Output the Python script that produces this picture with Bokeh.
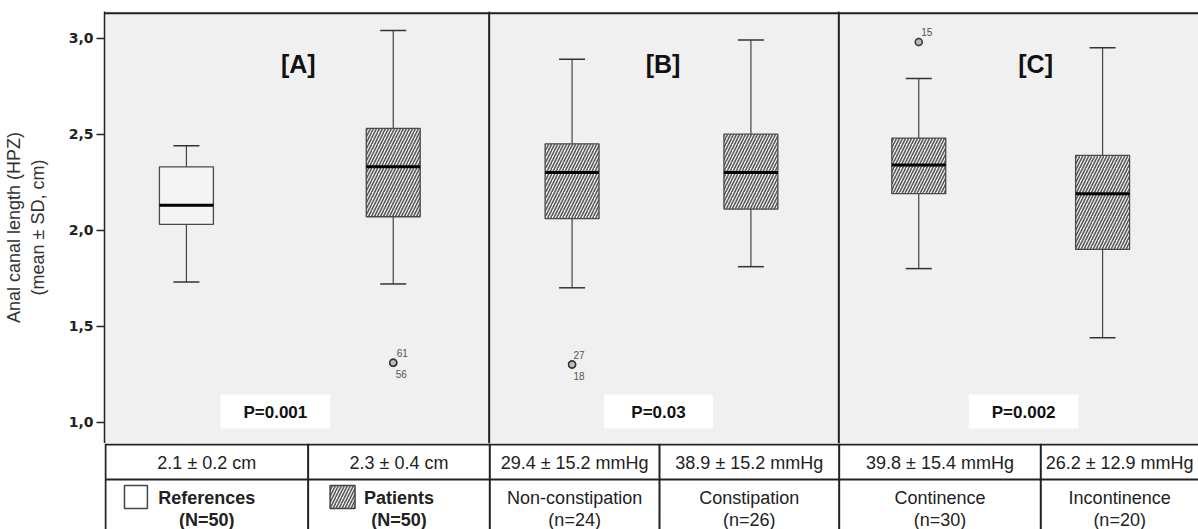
from bokeh.plotting import figure
from bokeh.layouts import column
from bokeh.models import FixedTicker, ColumnDataSource, Range1d
from bokeh.core.properties import value
from bokeh.embed import file_html
from bokeh.resources import INLINE

# ---------------- data ----------------
groups = ["References", "Patients", "Non-constipation", "Constipation", "Continence", "Incontinence"]
whisker_low = [1.73, 1.72, 1.70, 1.81, 1.80, 1.44]
q1 = [2.03, 2.07, 2.06, 2.11, 2.19, 1.90]
median = [2.13, 2.33, 2.30, 2.30, 2.34, 2.19]
q3 = [2.33, 2.53, 2.45, 2.50, 2.48, 2.39]
whisker_high = [2.44, 3.04, 2.89, 2.99, 2.79, 2.95]

outlier_group = ["Patients", "Patients", "Non-constipation", "Non-constipation", "Continence"]
outlier_value = [1.31, 1.31, 1.30, 1.30, 2.98]
outlier_case = ["61", "56", "27", "18", "15"]

stats = ["2.1 ± 0.2 cm", "2.3 ± 0.4 cm", "29.4 ± 15.2 mmHg", "38.9 ± 15.2 mmHg",
         "39.8 ± 15.4 mmHg", "26.2 ± 12.9 mmHg"]
group_n = ["(N=50)", "(N=50)", "(n=24)", "(n=26)", "(n=30)", "(n=20)"]
panel_labels = ["[A]", "[B]", "[C]"]
p_values = ["P=0.001", "P=0.03", "P=0.002"]
y_ticks = [1.0, 1.5, 2.0, 2.5, 3.0]
y_tick_labels = ["1,0", "1,5", "2,0", "2,5", "3,0"]
y_title = "Anal canal length (HPZ)\n(mean ± SD, cm)"

# ---------------- layout constants (pixel-like x units) ----------------
group_x = [82, 289, 468, 647, 815, 999]
BOX_W = 54
CAP_W = 26
panel_div = [385, 735]
col_div = [203, 555, 937]
col_center = [101.5, 294, 470, 645, 836, 1016]
panel_label_x = [194, 559, 932]
pbox_left = [116, 500, 865]
pbox_right = [226, 609, 975]

FONT = "Liberation Sans"
LINE = "#222222"


def v(py):
    return 1 + (421.7 - py) / 192.0


p = figure(width=1198, height=443, x_range=Range1d(0, 1095), y_range=Range1d(v(443), v(11)),
           output_backend="svg", toolbar_location=None, min_border_left=103, min_border_right=0,
           min_border_top=11, min_border_bottom=0, background_fill_color="#f0f0f0",
           border_fill_color="white", outline_line_color=None, x_axis_location=None)
p.grid.visible = False

ax = p.yaxis[0]
ax.ticker = FixedTicker(ticks=y_ticks)
ax.major_label_overrides = {t: l for t, l in zip(y_ticks, y_tick_labels)}
ax.minor_tick_line_color = None
ax.major_tick_out = 8
ax.major_tick_in = 0
ax.major_tick_line_color = LINE
ax.major_tick_line_width = 1.5
ax.axis_line_color = LINE
ax.axis_line_width = 1.5
ax.major_label_text_font = "DejaVu Sans"
ax.major_label_text_font_style = "bold"
ax.major_label_text_font_size = "14px"
ax.major_label_text_color = "#222222"
ax.major_label_standoff = 3
ax.axis_label = y_title
ax.axis_label_text_font = FONT
ax.axis_label_text_font_style = "normal"
ax.axis_label_text_font_size = "18px"
ax.axis_label_text_color = "#333333"
ax.axis_label_standoff = 18

# top border and panel dividers
p.segment(x0=[0], x1=[1095], y0=[v(12.7)], y1=[v(12.7)], line_color=LINE, line_width=2)
p.segment(x0=panel_div, x1=panel_div, y0=[v(443)] * 2, y1=[v(11)] * 2, line_color=LINE, line_width=2)

# boxes
src = ColumnDataSource(dict(
    x=group_x, lo=whisker_low, q1=q1, med=median, q3=q3, hi=whisker_high,
    hatch=[" " if g == "References" else "/" for g in groups],
    xl=[x - BOX_W / 2 for x in group_x], xr=[x + BOX_W / 2 for x in group_x],
    cl=[x - CAP_W / 2 for x in group_x], cr=[x + CAP_W / 2 for x in group_x],
))
p.segment(x0="x", x1="x", y0="lo", y1="q1", source=src, line_color="#444444", line_width=1.2)
p.segment(x0="x", x1="x", y0="q3", y1="hi", source=src, line_color="#444444", line_width=1.2)
p.segment(x0="cl", x1="cr", y0="lo", y1="lo", source=src, line_color="#333333", line_width=1.5)
p.segment(x0="cl", x1="cr", y0="hi", y1="hi", source=src, line_color="#333333", line_width=1.5)
p.vbar(x="x", width=BOX_W, bottom="q1", top="q3", source=src, fill_color="#f4f4f4",
       line_color="#4a4a4a", line_width=1.3, hatch_pattern="hatch", hatch_color="#5a5a5a",
       hatch_scale=6, hatch_weight=1.6)
p.segment(x0="xl", x1="xr", y0="med", y1="med", source=src, line_color="black", line_width=3)

# outliers
ox = [group_x[groups.index(g)] for g in outlier_group]
osrc = ColumnDataSource(dict(x=ox, y=outlier_value, case=outlier_case,
                             dy=[-10, 11, -10, 11, -10], dx=[9, 8, 7, 7, 8]))
p.scatter(x="x", y="y", source=osrc, marker="circle", size=7, fill_color="#bbbbbb",
          line_color="#333333", line_width=1.5)
p.text(x="x", y="y", text="case", source=osrc, x_offset="dx", y_offset="dy",
       text_font=value(FONT), text_font_size="10px", text_color="#555555",
       text_align="center", text_baseline="middle")

# panel labels
p.text(x=panel_label_x, y=[v(63)] * 3, text=panel_labels, text_font=value(FONT),
       text_font_size="25px", text_font_style="bold", text_color="#111111",
       text_align="center", text_baseline="middle")

# p-value boxes
p.quad(left=pbox_left, right=pbox_right, bottom=[v(428)] * 3, top=[v(394)] * 3,
       fill_color="white", line_color=None)
p.text(x=[(a + b) / 2 for a, b in zip(pbox_left, pbox_right)], y=[v(411.5)] * 3, text=p_values,
       text_font=value(FONT), text_font_size="17px", text_font_style="bold",
       text_color="#111111", text_align="center", text_baseline="middle")

# ---------------- table below ----------------
t = figure(width=1198, height=86, x_range=Range1d(-1, 1095), y_range=Range1d(0, 86),
           output_backend="svg", toolbar_location=None, min_border_left=102, min_border_right=0,
           min_border_top=0, min_border_bottom=0, x_axis_location=None, y_axis_location=None,
           outline_line_color=None, background_fill_color="white", border_fill_color="white")
t.grid.visible = False

t.segment(x0=[0, 0], x1=[1095, 1095], y0=[85, 50], y1=[85, 50], line_color=LINE, line_width=2)
vx = [0] + panel_div + col_div
t.segment(x0=vx, x1=vx, y0=[0] * len(vx), y1=[86] * len(vx), line_color=LINE, line_width=2)

t.text(x=col_center, y=[67] * 6, text=stats, text_font=value(FONT), text_font_size="18px",
       text_color="#222222", text_align="center", text_baseline="middle")

bold = ["bold" if g in ("References", "Patients") else "normal" for g in groups]
tsrc = ColumnDataSource(dict(x=col_center, name=groups, n=group_n, style=bold))
t.text(x="x", y=32, text="name", source=tsrc, text_font=value(FONT), text_font_size="18px",
       text_font_style="style", text_color="#222222", text_align="center", text_baseline="middle")
t.text(x="x", y=10, text="n", source=tsrc, text_font=value(FONT), text_font_size="18px",
       text_font_style="style", text_color="#222222", text_align="center", text_baseline="middle")

# legend squares
t.quad(left=[19, 225], right=[42, 250], bottom=[21, 21], top=[44, 44],
       fill_color=["white", "#f4f4f4"], line_color="#444444", line_width=1.5,
       hatch_pattern=[" ", "/"], hatch_color="#5a5a5a", hatch_scale=6, hatch_weight=1.6)

layout = column(p, t, spacing=0)
open("out.html", "w").write(file_html(layout, INLINE))
